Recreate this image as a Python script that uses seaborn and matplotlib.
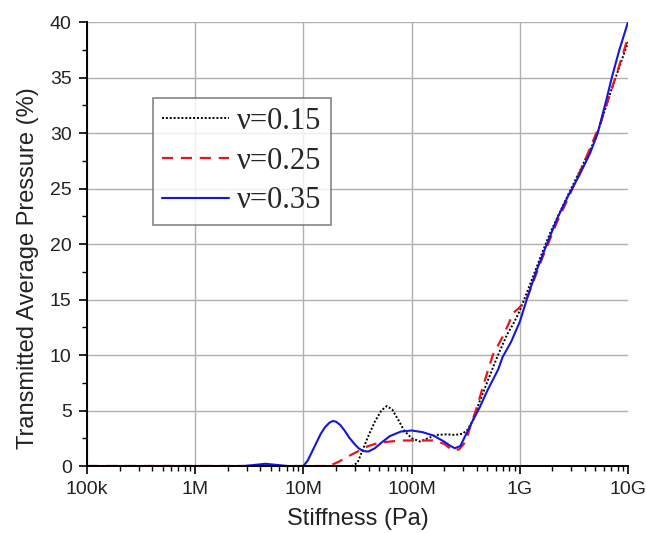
import numpy as np
import pandas as pd
import seaborn as sns
import matplotlib.pyplot as plt
from matplotlib.ticker import FixedLocator, MultipleLocator, LogLocator, NullFormatter

# log10(stiffness in Pa) and transmitted pressure (%)
logE_015 = [5.0, 6.0, 7.0, 7.45, 7.50, 7.55, 7.60, 7.66, 7.72, 7.77, 7.82, 7.88, 7.93, 8.00,
            8.08, 8.15, 8.23, 8.32, 8.40, 8.47, 8.52, 8.57, 8.62, 8.70, 8.79, 8.88, 8.95,
            9.00, 9.10, 9.19, 9.28, 9.40, 9.55, 9.70, 9.85, 10.0]
p_015 = [0, 0, 0, 0, 0.3, 1.5, 2.7, 4.0, 5.0, 5.4, 5.1, 4.1, 3.2, 2.5,
         2.2, 2.5, 2.8, 2.85, 2.8, 2.9, 3.3, 4.2, 5.6, 7.6, 9.8, 11.8, 13.0,
         14.0, 16.5, 18.8, 21.0, 23.5, 26.5, 29.5, 34.0, 38.2]

logE_025 = [5.0, 6.0, 7.0, 7.2, 7.26, 7.33, 7.40, 7.50, 7.60, 7.70, 7.80, 7.90, 8.00, 8.10,
            8.20, 8.30, 8.38, 8.44, 8.50, 8.55, 8.60, 8.67, 8.75, 8.85, 8.94, 9.00, 9.07,
            9.21, 9.34, 9.45, 9.60, 9.75, 9.90, 10.0]
p_025 = [0, 0, 0, 0, 0.1, 0.4, 0.8, 1.3, 1.8, 2.1, 2.2, 2.3, 2.3, 2.3,
         2.3, 2.0, 1.4, 1.5, 2.2, 3.8, 5.2, 7.5, 10.0, 11.8, 13.8, 14.3, 15.2,
         18.8, 21.9, 24.2, 27.5, 31.0, 35.5, 38.6]

logE_035 = [5.0, 6.0, 6.45, 6.55, 6.65, 6.75, 6.85, 7.0, 7.04, 7.08, 7.12, 7.16, 7.20, 7.24,
            7.27, 7.30, 7.34, 7.38, 7.42, 7.47, 7.51, 7.55, 7.60, 7.66, 7.72, 7.80, 7.90,
            8.00, 8.10, 8.20, 8.30, 8.36, 8.40, 8.45, 8.50, 8.56, 8.63, 8.70, 8.80, 8.84,
            8.92, 9.00, 9.07, 9.15, 9.25, 9.35, 9.45, 9.55, 9.65, 9.72, 9.80, 9.85, 9.92, 10.0]
p_035 = [0, 0, 0, 0.1, 0.2, 0.1, 0, 0, 0.5, 1.3, 2.1, 2.9, 3.5, 3.9,
         4.05, 4.0, 3.7, 3.2, 2.6, 2.0, 1.6, 1.35, 1.3, 1.6, 2.1, 2.7, 3.1,
         3.2, 3.05, 2.75, 2.2, 1.8, 1.6, 1.8, 2.8, 4.0, 5.3, 6.8, 8.7, 9.8,
         11.2, 13.0, 15.2, 17.5, 20.0, 22.4, 24.4, 26.2, 28.2, 30.0, 33.0, 35.0, 37.5, 40.0]

series_labels = ["ν=0.15", "ν=0.25", "ν=0.35"]
tick_vals = [1e5, 1e6, 1e7, 1e8, 1e9, 1e10]
tick_labels = ["100k", "1M", "10M", "100M", "1G", "10G"]

sns.set_style("white")
plt.rcParams['font.family'] = ['Liberation Sans', 'DejaVu Sans']

fig = plt.figure(figsize=(6.46, 5.33), dpi=100)
ax = fig.add_axes([0.1347, 0.1257, 0.8375, 0.833])

styles = [
    dict(color="black", linestyle=(0, (1, 1)), linewidth=1.4),
    dict(color="#e8161b", linestyle=(0, (5, 3.5)), linewidth=1.6),
    dict(color="#1515e0", linestyle="-", linewidth=1.5),
]
data = [(logE_015, p_015), (logE_025, p_025), (logE_035, p_035)]
for (le, p), lab, st in zip(data, series_labels, styles):
    df = pd.DataFrame({"E": 10 ** np.array(le), "P": p})
    sns.lineplot(data=df, x="E", y="P", ax=ax, label=lab, sort=False, **st)

ax.set_xscale("log")
ax.set_xlim(1e5, 1e10)
ax.set_ylim(0, 40)
ax.xaxis.set_major_locator(FixedLocator(tick_vals))
ax.set_xticklabels(tick_labels)
ax.xaxis.set_minor_locator(LogLocator(base=10, subs=np.arange(2, 10)))
ax.xaxis.set_minor_formatter(NullFormatter())
ax.yaxis.set_major_locator(MultipleLocator(5))
ax.yaxis.set_minor_locator(MultipleLocator(2.5))

ax.grid(True, which="major", color="#b0b0b0", linewidth=1.0)
ax.get_ygridlines()[-1].set_visible(False)
ax.get_xgridlines()[-1].set_visible(False)

for s in ["top", "right"]:
    ax.spines[s].set_visible(False)
for s in ["left", "bottom"]:
    ax.spines[s].set_color("black")
    ax.spines[s].set_linewidth(1.4)

ax.tick_params(which="major", direction="out", length=6, width=1.2, labelsize=14, pad=5,
               bottom=True, left=True, colors="black")
ax.tick_params(which="minor", direction="out", length=3.5, width=1.0,
               bottom=True, left=True, colors="black")
ax.tick_params(labelcolor="#222222")

ax.set_xlabel("Stiffness (Pa)", fontsize=17, color="#222222", labelpad=7)
ax.set_ylabel("Transmitted Average Pressure (%)", fontsize=17, color="#222222", labelpad=8)
# the y label sits a bit below the middle of the axis in the original
ax.yaxis.label.set_y(0.445)

leg = ax.legend(loc="upper left", bbox_to_anchor=(0.122, 0.829), borderaxespad=0,
                frameon=True, fancybox=False,
                handlelength=2.2, handletextpad=0.25, borderpad=0.3, labelspacing=0.35,
                prop={"family": "Liberation Serif", "size": 22})
leg.get_frame().set_edgecolor("#666666")
leg.get_frame().set_linewidth(1.2)

fig.savefig("out.png", dpi=100)
